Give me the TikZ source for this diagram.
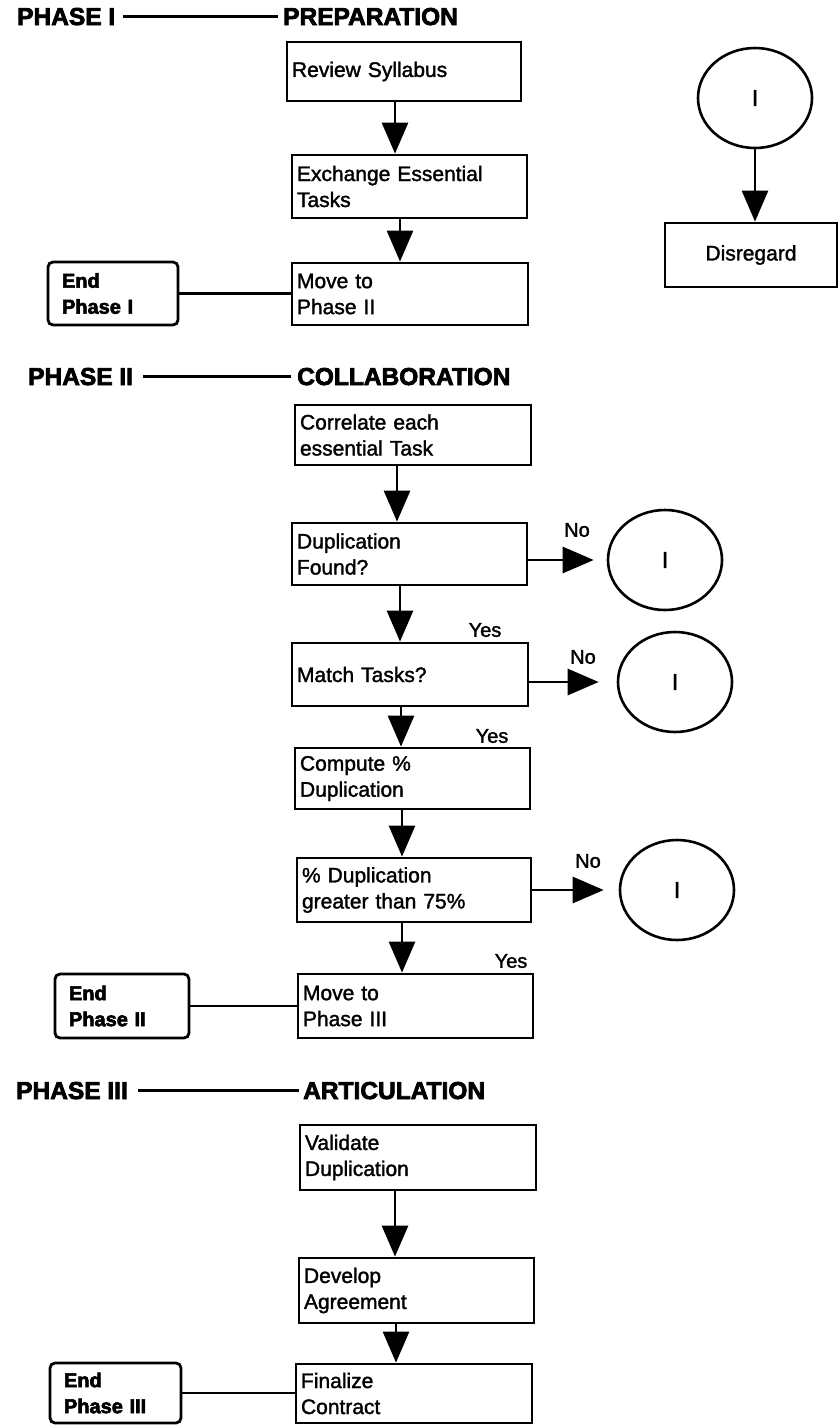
\documentclass[tikz,border=0pt]{standalone}
\usepackage{fontspec}
\setmainfont{Liberation Sans}
\newfontfamily\bx[FakeBold=1.6]{Liberation Sans}
\newfontfamily\hv[FakeBold=3]{Liberation Sans Bold}
\usetikzlibrary{arrows.meta,shapes.geometric}
\begin{document}
\begin{tikzpicture}[x=1pt,y=-1pt,
 box/.style={draw, line width=2.8pt, rectangle, inner xsep=5pt, inner ysep=0pt, align=left, font=\bx\fontsize{21}{26}\selectfont},
 endbox/.style={draw, line width=2.8pt, rounded corners=5pt, inner xsep=14pt, inner ysep=0pt, align=left, font=\hv\fontsize{20}{26}\selectfont},
 oval/.style={draw, ellipse, line width=2.6pt, minimum width=114pt, minimum height=100pt, inner sep=0pt, font=\bx\fontsize{23}{26}\selectfont},
 hdr/.style={inner sep=0pt, anchor=base west, font=\hv\fontsize{24.5}{30}\selectfont},
 lbl/.style={inner sep=0pt, font=\bx\fontsize{20}{24}\selectfont},
 arr/.style={line width=2.8pt, -{Triangle[width=26pt,length=31pt]}},
 link/.style={line width=2.4pt}]
\fill[white] (0,0) rectangle (839,1425);
\useasboundingbox (0,0) rectangle (839,1425);

% ---------- Phase I ----------
\node[hdr] (h1) at (17,25) {PHASE I};
\node[hdr] (t1) at (283,25) {PREPARATION};
\draw[link] ([xshift=8pt]h1.east) -- ([xshift=-5pt]t1.west);

\node[box, text width=224pt, minimum height=59pt] (review) at (404,71.5) {Review Syllabus};
\node[box, text width=225pt, minimum height=63pt] (exch) at (409.5,186.5) {Exchange Essential\\Tasks};
\node[box, text width=226pt, minimum height=62pt] (move2) at (410,294) {Move to\\Phase II};
\node[endbox, text width=102pt, minimum height=63pt] (end1) at (113,293.5) {End\\Phase I};

\node[oval] (c1) at (755,98) {I};
\node[box, align=center, text width=162pt, minimum height=64pt] (disr) at (751,255) {Disregard};

\coordinate (a1) at (395,0);
\coordinate (a2) at (400,0);
\draw[arr] (review.south -| a1) -- (exch.north -| a1);
\draw[arr] (exch.south -| a2) -- (move2.north -| a2);
\draw[link] (end1.east) -- (end1.east -| move2.west);
\draw[arr] (c1.south) -- (c1.south |- disr.north);

% ---------- Phase II ----------
\node[hdr] (h2) at (28,385) {PHASE II};
\node[hdr] (t2) at (297,385) {COLLABORATION};
\draw[link] ([xshift=10pt]h2.east) -- ([xshift=-6pt]t2.west);

\node[box, text width=226pt, minimum height=60pt] (corr) at (413,435) {Correlate each\\essential Task};
\node[box, text width=225pt, minimum height=62pt] (dup) at (409.5,554) {Duplication\\Found?};
\node[box, text width=226pt, minimum height=63pt] (match) at (410,674.5) {Match Tasks?};
\node[box, text width=225pt, minimum height=61pt] (comp) at (412.5,778.5) {Compute \%\\Duplication};
\node[box, text width=224pt, minimum height=64pt] (pdup) at (414,890) {\% Duplication\\greater than 75\%};
\node[box, text width=225pt, minimum height=64pt] (move3) at (415.5,1006) {Move to\\Phase III};
\node[endbox, text width=106pt, minimum height=64pt] (end2) at (122,1006) {End\\Phase II};

\node[oval] (c2) at (665,560) {I};
\node[oval] (c3) at (675,682) {I};
\node[oval] (c4) at (677,890) {I};

\coordinate (b1) at (397,0);
\coordinate (b2) at (400,0);
\coordinate (b3) at (401,0);
\coordinate (b4) at (402,0);
\draw[arr] (corr.south -| b1) -- (dup.north -| b1);
\draw[arr] (dup.south -| b2) -- (match.north -| b2);
\draw[arr] (match.south -| b3) -- (comp.north -| b3);
\draw[arr] (comp.south -| b4) -- (pdup.north -| b4);
\draw[arr] (pdup.south -| b4) -- (move3.north -| b4);

\draw[arr] (dup.east |- c2) -- ([xshift=-13pt]c2.west);
\draw[arr] (match.east |- c3) -- ([xshift=-18pt]c3.west);
\draw[arr] (pdup.east |- c4) -- ([xshift=-15pt]c4.west);
\draw[link] (end2.east) -- (end2.east -| move3.west);

\node[lbl] (no1) at (577,530) {No};
\node[lbl] (no2) at (583,657) {No};
\node[lbl] (no3) at (588,861) {No};
\node[lbl] (yes1) at (485,630) {Yes};
\node[lbl] (yes2) at (492,736) {Yes};
\node[lbl] (yes3) at (511,961) {Yes};

% ---------- Phase III ----------
\node[hdr] (h3) at (16,1099) {PHASE III};
\node[hdr] (t3) at (303,1099) {ARTICULATION};
\draw[link] ([xshift=10pt]h3.east) -- ([xshift=-4pt]t3.west);

\node[box, text width=226pt, minimum height=65pt] (valid) at (418,1157.5) {Validate\\Duplication};
\node[box, text width=225pt, minimum height=65pt] (dev) at (416.5,1290.5) {Develop\\Agreement};
\node[box, text width=226pt, minimum height=59pt] (final) at (414,1393.5) {Finalize\\Contract};
\node[endbox, text width=103pt, minimum height=60pt] (end3) at (115.5,1393) {End\\Phase III};

\coordinate (d1) at (395,0);
\coordinate (d2) at (396,0);
\draw[arr] (valid.south -| d1) -- (dev.north -| d1);
\draw[arr] (dev.south -| d2) -- (final.north -| d2);
\draw[link] (end3.east) -- (end3.east -| final.west);
\end{tikzpicture}
\end{document}
